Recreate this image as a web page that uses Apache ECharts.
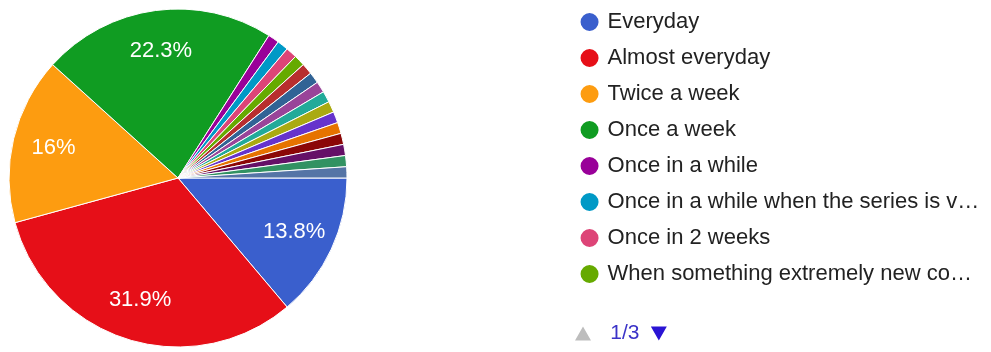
<!DOCTYPE html>
<html>
<head>
<meta charset="utf-8">
<script src="https://cdn.jsdelivr.net/npm/echarts@6/dist/echarts.min.js"></script>
<style>
html,body{margin:0;padding:0;background:#fff;}
#chart{width:991px;height:352px;}
</style>
</head>
<body>
<div id="chart"></div>
<script>
// Answer categories (only the first page of 8 is visible in the reference legend)
const categories = [
  "Everyday",
  "Almost everyday",
  "Twice a week",
  "Once a week",
  "Once in a while",
  "Once in a while when the series is v\u2026",
  "Once in 2 weeks",
  "When something extremely new co\u2026",
  "Answer 9", "Answer 10", "Answer 11", "Answer 12", "Answer 13",
  "Answer 14", "Answer 15", "Answer 16", "Answer 17", "Answer 18", "Answer 19"
];
// Response counts (94 responses in total)
const counts = [13, 30, 15, 21, 1, 1, 1, 1, 1, 1, 1, 1, 1, 1, 1, 1, 1, 1, 1];
const colors = [
  "#3a5fcd", "#e60f18", "#fd9c10", "#109c22", "#990099", "#0099c6", "#dd4477", "#66aa00",
  "#b82e2e", "#316395", "#994499", "#22aa99", "#aaaa11", "#6633cc", "#e67300", "#8b0707",
  "#651067", "#329262", "#5574a6"
];

const total = counts.reduce((a, b) => a + b, 0);
const pieData = categories.map((n, i) => ({ name: n, value: counts[i] }));

// Pager icons: the "next" icon carries a wide transparent tail so that the
// centred pager ends up under the left edge of the legend, as in the reference.
const A = 40, B = 348;
const upIcon = 'path://M0,14L0,14ZM' + (A - 24) + ',14L' + (A - 16) + ',0L' + (A - 8) + ',14ZM' + A + ',14L' + A + ',14Z';
const downIcon = 'path://M0,0L8,14L16,0ZM' + B + ',0L' + B + ',0Z';

const chart = echarts.init(document.getElementById('chart'), null, { renderer: 'canvas' });
chart.setOption({
  animation: false,
  color: colors,
  legend: {
    type: 'scroll',
    orient: 'vertical',
    left: 554,
    top: 6,
    height: 333,
    itemWidth: 26,
    itemHeight: 20,
    itemGap: 14,
    icon: 'circle',
    data: categories,
    textStyle: {
      fontFamily: 'Liberation Sans, Arial, sans-serif',
      fontSize: 22,
      lineHeight: 22,
      color: '#222'
    },
    pageIcons: { vertical: [upIcon, downIcon], horizontal: [upIcon, downIcon] },
    pageIconSize: [B, 14],
    pageIconColor: '#2a14d4',
    pageIconInactiveColor: '#bdbdbd',
    pageButtonItemGap: 2,
    pageButtonGap: 28,
    pageTextStyle: {
      fontFamily: 'Liberation Sans, Arial, sans-serif',
      fontSize: 21,
      color: '#3b33c8'
    }
  },
  series: [
    {
      type: 'pie',
      center: [178, 178],
      radius: [0, 169],
      startAngle: 0,
      clockwise: true,
      avoidLabelOverlap: false,
      label: { show: false },
      labelLine: { show: false },
      itemStyle: { borderColor: '#fff', borderWidth: 1 },
      emphasis: { disabled: true },
      data: pieData
    },
    {
      type: 'pie',
      center: [178, 178],
      radius: [0, 250],
      startAngle: 0,
      clockwise: true,
      silent: true,
      avoidLabelOverlap: false,
      minShowLabelAngle: 10,
      itemStyle: { color: 'rgba(0,0,0,0)', borderWidth: 0 },
      labelLine: { show: false },
      emphasis: { disabled: true },
      label: {
        show: true,
        position: 'inside',
        formatter: (p) => (+(p.value / total * 100).toFixed(1)) + '%',
        color: '#fff',
        fontFamily: 'Liberation Sans, Arial, sans-serif',
        fontSize: 22,
        textBorderWidth: 0
      },
      data: pieData
    }
  ]
});
</script>
</body>
</html>
